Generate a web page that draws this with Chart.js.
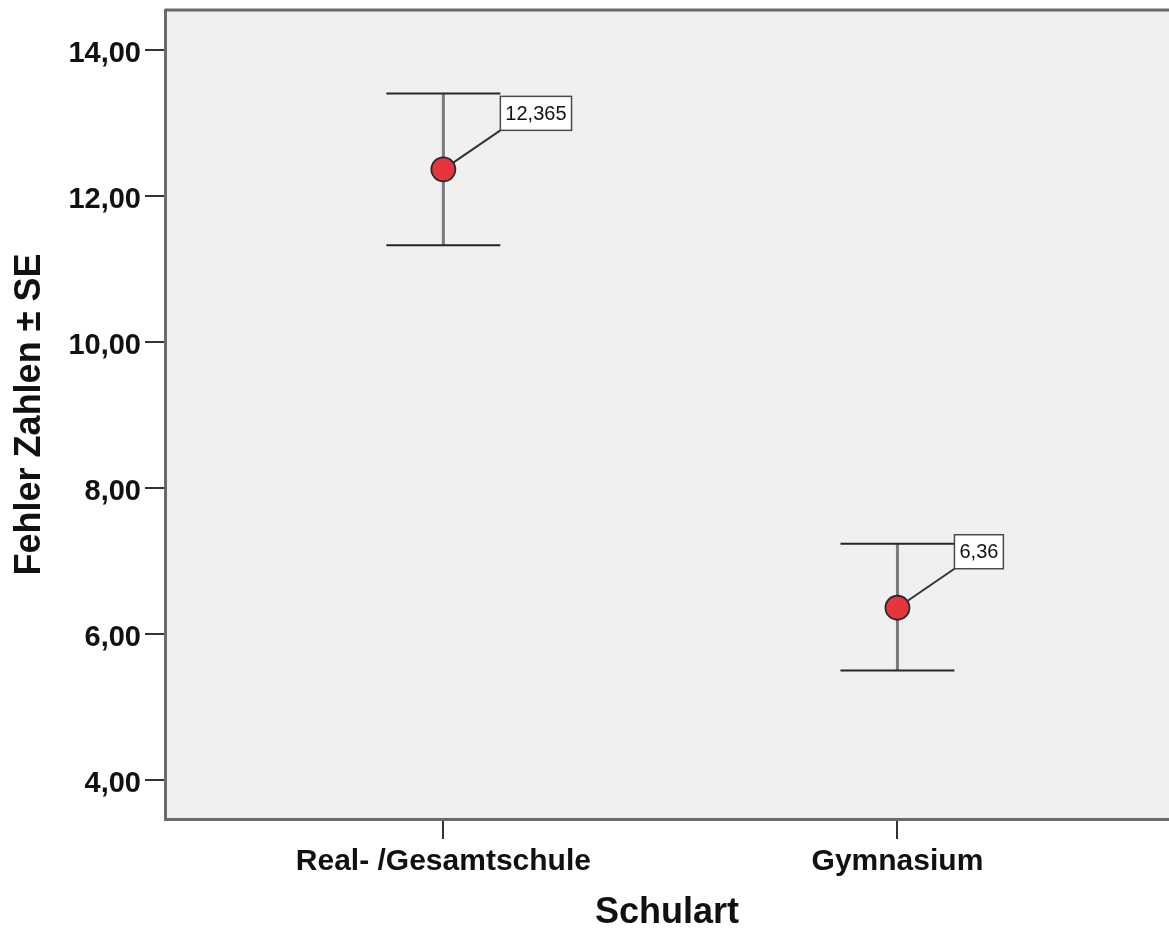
<!DOCTYPE html>
<html>
<head>
<meta charset="utf-8">
<script src="https://cdn.jsdelivr.net/npm/chart.js@4.4.1/dist/chart.umd.min.js"></script>
<style>
  html, body { margin: 0; padding: 0; background: #ffffff; }
  canvas { display: block; }
</style>
</head>
<body>
<canvas id="c" width="1169" height="931"></canvas>
<script>
// Mittelwerte der Fehler (Zahlen) je Schulart mit ±1 Standardfehler
const schularten = ['Real- /Gesamtschule', 'Gymnasium'];
const mittelwerte = [12.365, 6.36];
const seOben = [13.405, 7.235];
const seUnten = [11.325, 5.50];
const yTicks = [4, 6, 8, 10, 12, 14];

const komma = v => String(v).replace('.', ',');
const FONT = "'Liberation Sans', Arial, Helvetica, sans-serif";
Chart.defaults.font.family = FONT;
Chart.defaults.color = '#000000';

const frameColor = '#6b6b6b';

// the axes keep a fixed size and add no extra room for their edge labels
const fixSize = (s, w, h) => {
  if (w !== undefined) s.width = w;
  if (h !== undefined) s.height = h;
  s.paddingTop = 0; s.paddingBottom = 0; s.paddingLeft = 0; s.paddingRight = 0;
};

// grey plot background and the upper frame line
const plotFrame = {
  id: 'plotFrame',
  beforeDraw(chart) {
    const { ctx, chartArea: a } = chart;
    ctx.save();
    ctx.fillStyle = '#f0f0f0';
    ctx.fillRect(a.left, a.top, a.right - a.left, a.bottom - a.top);
    ctx.restore();
  },
  beforeDatasetsDraw(chart) {
    const { ctx, chartArea: a } = chart;
    ctx.save();
    ctx.strokeStyle = frameColor;
    ctx.lineWidth = 3;
    ctx.beginPath();
    ctx.moveTo(a.left, a.top);
    ctx.lineTo(a.right, a.top);
    ctx.stroke();
    ctx.restore();
  }
};

// vertical error bars with caps, drawn beneath the mean markers
const errorBars = {
  id: 'errorBars',
  beforeDatasetsDraw(chart) {
    const { ctx, scales: { x, y } } = chart;
    ctx.save();
    mittelwerte.forEach((m, i) => {
      const px = x.getPixelForValue(i);
      const yt = y.getPixelForValue(seOben[i]);
      const yb = y.getPixelForValue(seUnten[i]);
      ctx.strokeStyle = '#7a7a7a';
      ctx.lineWidth = 3;
      ctx.beginPath();
      ctx.moveTo(px, yt);
      ctx.lineTo(px, yb);
      ctx.stroke();
      ctx.strokeStyle = '#262626';
      ctx.lineWidth = 2;
      ctx.beginPath();
      ctx.moveTo(px - 57, yt); ctx.lineTo(px + 57, yt);
      ctx.moveTo(px - 57, yb); ctx.lineTo(px + 57, yb);
      ctx.stroke();
    });
    ctx.restore();
  }
};

// boxed value labels attached to each mean marker
const wertLabels = {
  id: 'wertLabels',
  afterDatasetsDraw(chart) {
    const { ctx, scales: { x, y } } = chart;
    const r = 12;
    ctx.save();
    ctx.font = '20px ' + FONT;
    ctx.textBaseline = 'middle';
    ctx.textAlign = 'left';
    mittelwerte.forEach((m, i) => {
      const px = x.getPixelForValue(i);
      const py = y.getPixelForValue(m);
      const bx = px + 57, by = py - 39;   // lower-left corner of the box
      const text = komma(m);
      const w = ctx.measureText(text).width + 10;
      const h = 34;
      const dx = bx - px, dy = by - py, len = Math.hypot(dx, dy);
      ctx.strokeStyle = '#333333';
      ctx.lineWidth = 2;
      ctx.beginPath();
      ctx.moveTo(px + dx / len * r, py + dy / len * r);
      ctx.lineTo(bx, by);
      ctx.stroke();
      ctx.fillStyle = '#ffffff';
      ctx.fillRect(bx, by - h, w, h);
      ctx.strokeStyle = '#4a4a4a';
      ctx.lineWidth = 1.5;
      ctx.strokeRect(bx, by - h, w, h);
      ctx.fillStyle = '#111111';
      ctx.fillText(text, bx + 5, by - h / 2 + 1);
    });
    ctx.restore();
  }
};

new Chart(document.getElementById('c'), {
  type: 'scatter',
  data: {
    datasets: [{
      data: mittelwerte.map((m, i) => ({ x: i, y: m })),
      pointRadius: 12,
      pointHoverRadius: 12,
      pointBackgroundColor: '#e8343c',
      pointBorderColor: '#2a2a2a',
      pointBorderWidth: 1.8
    }]
  },
  options: {
    responsive: false,
    animation: false,
    events: [],
    layout: { autoPadding: false, padding: { top: 10, left: 0, right: 0, bottom: 0 } },
    plugins: { legend: { display: false }, tooltip: { enabled: false } },
    scales: {
      x: {
        type: 'linear',
        min: -0.613,
        max: 1.598,
        afterBuildTicks: s => { s.ticks = schularten.map((_, i) => ({ value: i })); },
        afterFit: s => fixSize(s, undefined, 112),
        ticks: {
          callback: v => schularten[v],
          font: { size: 30, weight: 'bold' },
          color: '#111111',
          padding: 5,
          maxRotation: 0,
          autoSkip: false
        },
        grid: { drawOnChartArea: false, drawTicks: true, tickLength: 20, color: '#333333', lineWidth: 2 },
        border: { color: frameColor, width: 3 },
        title: {
          display: true,
          text: 'Schulart',
          font: { size: 36, weight: 'bold', lineHeight: 1 },
          color: '#111111',
          padding: { top: 0, bottom: 0 }
        }
      },
      y: {
        type: 'linear',
        min: 3.466,
        max: 14.548,
        afterBuildTicks: s => { s.ticks = yTicks.map(v => ({ value: v })); },
        afterFit: s => fixSize(s, 165, undefined),
        ticks: {
          callback: v => v.toFixed(2).replace('.', ','),
          font: { size: 29, weight: 'bold' },
          color: '#111111',
          padding: 4,
          labelOffset: 4
        },
        grid: { drawOnChartArea: false, drawTicks: true, tickLength: 20, color: '#333333', lineWidth: 2 },
        border: { color: frameColor, width: 3 },
        title: {
          display: true,
          text: 'Fehler Zahlen ± SE',
          font: { size: 36, weight: 'bold', lineHeight: 1 },
          color: '#111111',
          padding: { top: 12, bottom: 0 }
        }
      }
    }
  },
  plugins: [plotFrame, errorBars, wertLabels]
});
</script>
</body>
</html>
